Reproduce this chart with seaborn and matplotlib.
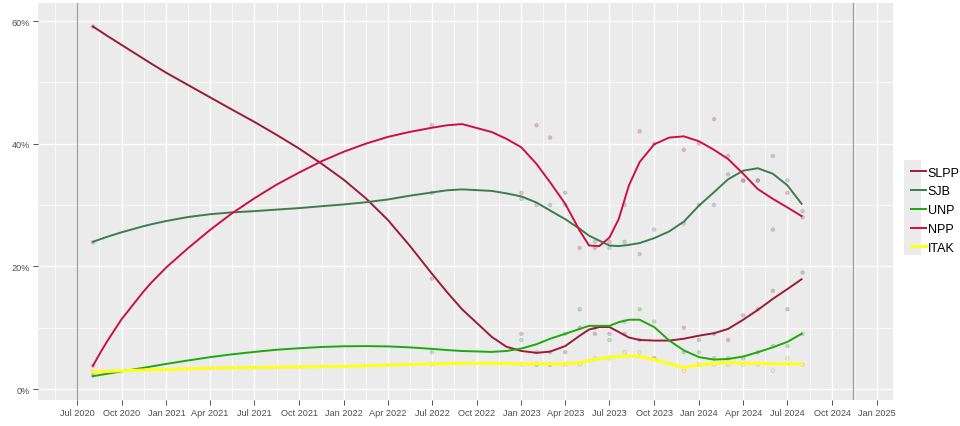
import numpy as np
import pandas as pd
import matplotlib
matplotlib.use("Agg")
import matplotlib.pyplot as plt
import matplotlib.dates as mdates
from matplotlib.lines import Line2D
from matplotlib.patches import Rectangle
import seaborn as sns

# ---------------- data ----------------
parties = ["SLPP", "SJB", "UNP", "NPP", "ITAK"]
colors = ["#9A1B3D", "#3C7D50", "#1FA80F", "#CC1142", "#FFFF1A"]

# smoothed trend lines
trend_dates = ["2020-08-03", "2020-08-20", "2020-09-01", "2020-10-01", "2020-11-15",
               "2020-12-01", "2021-01-01", "2021-02-15", "2021-04-01", "2021-05-15",
               "2021-07-01", "2021-08-15", "2021-10-01", "2021-11-15", "2022-01-01",
               "2022-02-15", "2022-04-01", "2022-05-15", "2022-07-01", "2022-08-01",
               "2022-09-01", "2022-11-01", "2022-12-01", "2023-01-01",
               "2023-02-01", "2023-03-01", "2023-04-01", "2023-05-01", "2023-05-20",
               "2023-06-10", "2023-07-01", "2023-07-20", "2023-08-10", "2023-09-01",
               "2023-10-01", "2023-11-01", "2023-12-01", "2024-01-01", "2024-02-01",
               "2024-03-01", "2024-04-01", "2024-05-01", "2024-06-01", "2024-07-01",
               "2024-07-30"]
slpp_trend = [59.1, 58.23, 57.6, 56.1, 53.85, 53.05, 51.55, 49.55, 47.55, 45.6,
              43.55, 41.47, 39.2, 36.8, 34.1, 31.1, 27.6, 23.5, 18.8, 15.8,
              13.0, 8.5, 6.9, 6.2,
              5.9, 6.1, 7.0, 8.7, 9.7, 10.1, 10.1, 9.3, 8.4, 8.0, 7.9, 7.9, 8.2, 8.7, 9.1,
              9.8, 11.3, 12.9, 14.7, 16.3, 17.9]
sjb_trend = [24.0, 24.48, 24.81, 25.56, 26.55, 26.86, 27.4, 28.05, 28.5, 28.8,
             29.0, 29.25, 29.5, 29.8, 30.1, 30.45, 30.9, 31.5, 32.05, 32.4,
             32.55, 32.3, 31.9, 31.4,
             30.4, 29.1, 27.7, 26.1, 25.0, 24.2, 23.4, 23.3, 23.5, 23.8, 24.6, 25.7, 27.3, 29.9, 32.1,
             34.2, 35.6, 36.0, 35.1, 33.2, 30.2]
unp_trend = [2.1, 2.32, 2.48, 2.87, 3.46, 3.68, 4.1, 4.66, 5.2, 5.65,
             6.05, 6.4, 6.65, 6.85, 6.97, 7.0, 6.95, 6.8, 6.55, 6.35,
             6.2, 6.05, 6.2, 6.6,
             7.3, 8.2, 9.0, 9.8, 10.3, 10.3, 10.3, 10.9, 11.3, 11.3, 10.1, 7.9, 6.3, 5.2, 4.8,
             4.9, 5.3, 6.0, 6.8, 7.7, 9.0]
npp_trend = [3.8, 6.17, 7.76, 11.4, 15.9, 17.35, 19.85, 23.0, 25.95, 28.6,
             31.1, 33.3, 35.3, 37.1, 38.7, 40.0, 41.1, 41.9, 42.6, 43.0,
             43.2, 41.9, 40.8, 39.4,
             36.7, 33.7, 30.2, 25.8, 23.4, 23.3, 24.7, 27.7, 33.2, 37.0, 39.9, 41.0, 41.2, 40.4, 39.0,
             37.5, 35.1, 32.6, 31.0, 29.6, 28.2]
itak_trend = [2.8, 2.85, 2.88, 2.97, 3.1, 3.15, 3.2, 3.3, 3.4, 3.45,
              3.5, 3.55, 3.6, 3.65, 3.7, 3.8, 3.9, 4.0, 4.1, 4.15,
              4.2, 4.2, 4.15, 4.1,
              4.1, 4.1, 4.1, 4.3, 4.6, 4.9, 5.2, 5.3, 5.4, 5.3, 4.8, 4.1, 3.5, 3.9, 4.2,
              4.3, 4.2, 4.2, 4.1, 4.1, 4.1]

# individual polls (faint points)
poll_dates = ["2020-08-03", "2022-07-01", "2023-01-01", "2023-02-01", "2023-03-01",
              "2023-04-01", "2023-05-01", "2023-06-01", "2023-07-01", "2023-08-01",
              "2023-09-01", "2023-10-01", "2023-12-01", "2024-01-01", "2024-02-01",
              "2024-03-01", "2024-04-01", "2024-05-01", "2024-06-01", "2024-07-01",
              "2024-08-01"]
slpp_polls = [59.1, 18, 9, 4, 4, 6, 10, 9, 9, 9, 8, 5, 10, 8, 9, 8, 12, 13, 16, 13, 19]
sjb_polls = [23.9, 32, 31, 30, 30, 30, 26, 24, 23, 24, 22, 26, 27, 30, 30, 35, 34, 34, 38, 34, 29]
unp_polls = [2.2, 6, 8, 6, 6, 9, 13, 10, 8, 11, 13, 11, 6, 6, 5, 5, 5, 6, 7, 7, 9]
npp_polls = [3.8, 43, 32, 43, 41, 32, 23, 23, 24, 30, 42, 40, 39, 40, 44, 38, 34, 34, 26, 32, 28]
itak_polls = [2.8, 4, 4, 4, 4, 4, 4, 5, 5, 6, 6, 5, 3, 4, 4, 4, 4, 4, 3, 5, 4]

election_lines = ["2020-07-02", "2024-11-12"]
xticks = pd.date_range("2020-07-01", "2025-01-01", freq="QS-JAN")
yticks = [0, 20, 40, 60]

# ---------------- build frames ----------------
trend_vals = dict(zip(parties, [slpp_trend, sjb_trend, unp_trend, npp_trend, itak_trend]))
poll_vals = dict(zip(parties, [slpp_polls, sjb_polls, unp_polls, npp_polls, itak_polls]))
trend_df = pd.concat([pd.DataFrame({"date": pd.to_datetime(trend_dates), "pct": trend_vals[p], "party": p})
                      for p in parties], ignore_index=True)
poll_df = pd.concat([pd.DataFrame({"date": pd.to_datetime(poll_dates), "pct": poll_vals[p], "party": p})
                     for p in parties], ignore_index=True)
palette = dict(zip(parties, colors))

# ---------------- figure ----------------
W, H = 960, 427
fig = plt.figure(figsize=(W / 100, H / 100), dpi=100)
ax = fig.add_axes([38 / W, (H - 401) / H, 855 / W, 397 / H])
ax.set_facecolor("#EBEBEB")
for s in ax.spines.values():
    s.set_visible(False)

ax.set_xlim(pd.Timestamp("2020-04-12"), pd.Timestamp("2025-02-03"))
ax.set_ylim(-1.79, 62.94)

# grid
minor_x = [xticks[i] + (xticks[i + 1] - xticks[i]) / 2 for i in range(len(xticks) - 1)]
minor_x = [pd.Timestamp("2020-05-16")] + minor_x
ax.set_xticks(xticks)
ax.set_xticks(minor_x, minor=True)
ax.set_yticks(yticks)
ax.set_yticks([10, 30, 50], minor=True)
ax.grid(which="major", color="white", linewidth=1.0)
ax.grid(which="minor", color="white", linewidth=0.5)
ax.set_axisbelow(True)

for d in election_lines:
    ax.axvline(pd.Timestamp(d), color="#9E9E9E", linewidth=0.9, zorder=1)

# polls
sns.scatterplot(data=poll_df, x="date", y="pct", hue="party", palette=palette,
                s=7, alpha=0.25, linewidth=0.6, edgecolor="#777777", legend=False, ax=ax, zorder=2)

# trends
for p in parties:
    sub = trend_df[trend_df["party"] == p]
    sns.lineplot(data=sub, x="date", y="pct", color=palette[p],
                 linewidth=2.2 if p == "ITAK" else 1.4, ax=ax, legend=False, zorder=3)

ax.set_xlabel("")
ax.set_ylabel("")
ax.xaxis.set_major_formatter(mdates.DateFormatter("%b %Y"))
ax.set_yticklabels([f"{v}%" for v in yticks])
ax.tick_params(which="major", length=3.5, width=0.6, color="#333333",
               labelsize=6.6, labelcolor="#4D4D4D", pad=2)
ax.tick_params(which="minor", length=0)
for lab in ax.get_xticklabels() + ax.get_yticklabels():
    lab.set_family("Liberation Sans")

# legend
fig.patches.append(Rectangle((904 / W, (H - 256) / H), 17 / W, 95 / H,
                             transform=fig.transFigure, facecolor="#EBEBEB",
                             edgecolor="none", zorder=0))
handles = [Line2D([0], [0], color=palette[p], linewidth=2.2 if p == "ITAK" else 1.4) for p in parties]
leg = fig.legend(handles, parties, loc="upper left", bbox_to_anchor=(902 / W, (H - 159) / H),
                 frameon=False, prop={"family": "Liberation Sans", "size": 9},
                 handlelength=1.2, handletextpad=0.15, labelspacing=0.54, borderpad=0.2)

fig.savefig("out.png", dpi=100)
